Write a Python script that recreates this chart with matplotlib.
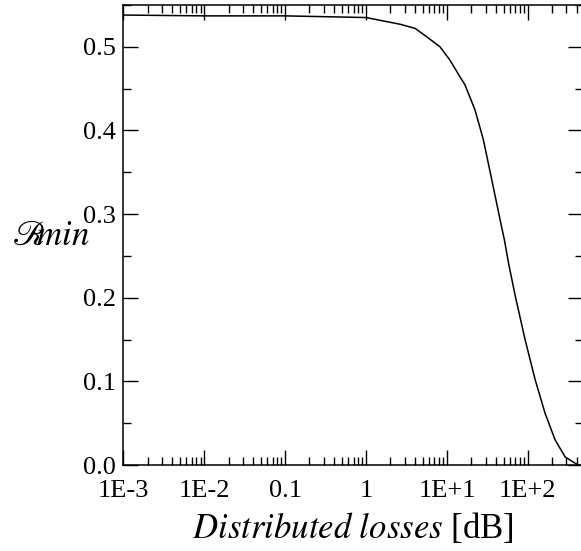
import matplotlib
matplotlib.use("Agg")
import matplotlib.pyplot as plt
from matplotlib.ticker import LogLocator, MultipleLocator, NullFormatter, FixedLocator, FixedFormatter

plt.rcParams['font.family'] = ['Liberation Serif', 'DejaVu Serif']
plt.rcParams['mathtext.fontset'] = 'stix'

# data
losses_db = [1e-3, 1e-2, 0.1, 1.0, 2.63, 4.04, 5.62, 8.2, 10.9, 14.5, 16.7, 22.2, 28.2,
             35.8, 45.4, 51.3, 57.5, 69.5, 92.3, 123.0, 163.0, 217.0, 289.0, 385.0, 420.0]
r_min = [0.538, 0.537, 0.537, 0.535, 0.527, 0.522, 0.512, 0.500, 0.484, 0.464, 0.4545,
         0.4246, 0.3888, 0.341, 0.293, 0.269, 0.242, 0.203, 0.150, 0.102, 0.062, 0.030,
         0.0096, 0.002, 0.0]

x_tick_values = [1e-3, 1e-2, 0.1, 1, 10, 100]
x_tick_labels = ['1E-3', '1E-2', '0.1', '1', '1E+1', '1E+2']
y_tick_values = [0.0, 0.1, 0.2, 0.3, 0.4, 0.5]
y_tick_labels = ['0.0', '0.1', '0.2', '0.3', '0.4', '0.5']

fig = plt.figure(figsize=(5.81, 5.51), dpi=100)
ax = fig.add_axes([123.3 / 581, 1 - 465 / 551, (583 - 123.3) / 581, (465 - 5) / 551])

ax.plot(losses_db, r_min, color='black', lw=1.1)
ax.set_xscale('log')
ax.set_xlim(1e-3, 480)
ax.set_ylim(0, 0.55)

ax.xaxis.set_major_locator(FixedLocator(x_tick_values))
ax.xaxis.set_major_formatter(FixedFormatter(x_tick_labels))
ax.xaxis.set_minor_locator(LogLocator(base=10, subs=range(2, 10), numticks=20))
ax.xaxis.set_minor_formatter(NullFormatter())
ax.yaxis.set_major_locator(FixedLocator(y_tick_values))
ax.yaxis.set_major_formatter(FixedFormatter(y_tick_labels))
ax.yaxis.set_minor_locator(MultipleLocator(0.05))

for s in ax.spines.values():
    s.set_linewidth(1.1)
ax.tick_params(which='both', direction='in', top=True, right=True, width=1.0)
ax.tick_params(which='major', length=10.8, labelsize=19)
ax.tick_params(which='minor', length=5.8)
ax.tick_params(axis='x', pad=11)
ax.tick_params(axis='y', pad=5)

ax.set_xlabel(r'$\mathit{Distributed\ losses}$ [dB]', fontsize=25, labelpad=6)
fig.text(12 / 581, 1 - 236 / 551, r'$\mathscr{R}\!\!\mathit{min}$', fontsize=25,
         ha='left', va='center')

fig.savefig('out.png', dpi=100)
